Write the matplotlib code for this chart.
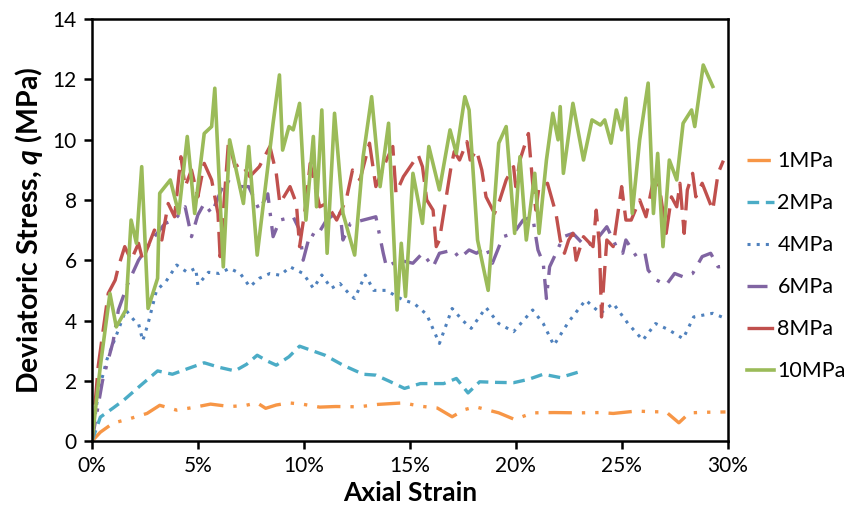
import matplotlib
matplotlib.use("Agg")
import matplotlib.pyplot as plt
from matplotlib.ticker import FuncFormatter

plt.rcParams['font.family'] = ['Lato', 'DejaVu Sans']
plt.rcParams['mathtext.fontset'] = 'custom'
plt.rcParams['mathtext.bfit'] = 'Lato:bold:italic'

# axial strain (%) and deviatoric stress (MPa) for each confining pressure
strain_1 = [0, 0.4, 1.0, 1.8, 2.6, 3.2, 4.0, 4.8, 5.6, 6.5, 7.2, 7.8, 8.2, 8.7, 9.3, 10.0,
            10.75, 11.5, 12.6, 13.5, 14.2, 14.7, 15.5, 16.3, 17.0, 17.6, 18.1, 18.6, 19.2,
            19.95, 20.8, 21.8, 23.0, 24.0, 24.6, 25.7, 26.3, 27.1, 27.7, 28.2, 29.0, 29.9]
stress_1 = [0, 0.3, 0.6, 0.75, 0.92, 1.19, 1.03, 1.12, 1.23, 1.15, 1.18, 1.27, 1.09, 1.2,
            1.27, 1.22, 1.13, 1.15, 1.14, 1.22, 1.25, 1.27, 1.16, 1.1, 0.81, 1.05, 1.14, 1.05,
            0.94, 0.72, 0.94, 0.95, 0.94, 0.95, 0.92, 1.0, 0.98, 0.97, 0.61, 0.94, 0.96, 0.97]

strain_2 = [0, 0.4, 1.0, 1.5, 2.3, 3.1, 3.8, 4.5, 5.3, 6.0, 6.75, 7.3, 7.8, 8.3, 8.7, 9.3,
            9.8, 10.4, 11.0, 11.85, 12.8, 13.4, 14.0, 14.75, 15.5, 16.6, 17.2, 17.75, 18.3,
            19.1, 19.9, 20.6, 21.3, 22.1, 23.0]
stress_2 = [0, 0.8, 1.1, 1.36, 1.85, 2.33, 2.22, 2.4, 2.6, 2.45, 2.33, 2.55, 2.85, 2.65,
            2.52, 2.8, 3.15, 3.0, 2.85, 2.52, 2.22, 2.19, 2.0, 1.75, 1.91, 1.91, 2.08, 1.6,
            1.97, 1.95, 1.94, 2.05, 2.22, 2.11, 2.3]

strain_4 = [0, 0.3, 0.7, 1.2, 1.6, 2.0, 2.2, 2.4, 2.65, 3.05, 3.5, 4.0, 4.5, 4.9, 5.0, 5.5,
            6.0, 6.5, 7.0, 7.45, 7.9, 8.4, 8.9, 9.35, 9.97, 10.45, 10.85, 11.3, 11.7, 12.2,
            12.4, 12.9, 13.3, 13.9, 14.4, 14.7, 15.2, 15.8, 16.4, 17.0, 17.5, 17.9, 18.6,
            19.2, 19.9, 20.8, 21.3, 21.8, 22.5, 23.3, 24.0, 24.6, 25.3, 26.0, 26.6, 27.2,
            27.9, 28.4, 29.3, 29.9]
stress_4 = [0, 1.6, 2.69, 3.6, 4.35, 4.0, 3.9, 3.33, 3.9, 5.0, 5.3, 5.84, 5.6, 5.73, 5.18,
            5.6, 5.56, 5.73, 5.56, 5.12, 5.4, 5.56, 5.5, 5.78, 5.56, 5.07, 5.51, 5.07, 5.23,
            4.84, 4.73, 5.51, 5.0, 5.0, 4.79, 4.68, 4.57, 4.2, 3.24, 4.4, 4.0, 3.74, 4.43,
            3.9, 3.63, 4.35, 3.9, 3.18, 3.96, 4.68, 4.24, 4.57, 3.9, 3.35, 3.9, 3.7, 3.4,
            4.12, 4.24, 4.07]

strain_6 = [0, 0.5, 1.0, 1.25, 1.7, 2.2, 2.95, 3.45, 3.9, 4.4, 4.7, 5.0, 5.3, 5.65, 6.3,
            6.9, 7.4, 7.9, 8.3, 8.55, 8.87, 9.5, 9.8, 9.97, 10.3, 10.6, 11.07, 11.7, 11.85,
            12.2, 12.8, 13.4, 13.75, 13.9, 14.5, 15.15, 15.6, 16.1, 16.4, 17.05, 17.35,
            17.8, 18.15, 18.6, 18.9, 19.4, 19.9, 20.35, 20.8, 21.05, 21.3, 21.45, 21.6,
            21.9, 22.25, 22.7, 23.3, 23.8, 24.3, 24.75, 25.05, 25.2, 25.7, 26.1, 26.25,
            26.65, 27.1, 27.5, 27.9, 28.35, 28.8, 29.2, 29.55, 29.8]
stress_6 = [0, 2.0, 3.3, 4.35, 5.23, 6.0, 6.78, 7.22, 7.33, 7.77, 6.78, 7.5, 7.88, 7.55,
            8.66, 8.44, 8.44, 7.66, 8.2, 6.78, 7.33, 7.44, 7.0, 6.0, 6.89, 6.78, 7.33, 7.66,
            6.67, 7.22, 7.33, 7.44, 6.23, 5.78, 6.0, 5.9, 6.23, 5.78, 6.23, 6.34, 6.06,
            6.34, 6.23, 6.45, 5.9, 6.78, 6.89, 7.33, 7.44, 6.34, 5.9, 4.73, 5.78, 6.23,
            6.78, 6.89, 6.45, 6.67, 7.11, 6.45, 6.23, 6.67, 6.12, 6.23, 5.67, 5.34, 5.18,
            5.56, 5.45, 5.56, 6.12, 6.23, 5.78, 5.8]

strain_8 = [0, 0.3, 0.77, 1.1, 1.25, 1.55, 1.85, 2.2, 2.4, 2.95, 3.3, 3.6, 3.9, 4.2, 4.4,
            4.7, 5.0, 5.3, 5.65, 5.95, 6.05, 6.45, 6.75, 7.05, 7.45, 7.9, 8.4, 8.7, 8.87,
            9.35, 9.65, 9.8, 10.1, 10.3, 10.75, 11.07, 11.55, 12.0, 12.3, 12.65, 13.1, 13.4,
            13.9, 14.2, 14.35, 14.7, 15.4, 15.6, 15.8, 16.1, 16.25, 16.4, 16.7, 16.95, 17.1,
            17.35, 17.7, 17.85, 18.15, 18.4, 18.6, 19.0, 19.25, 19.55, 19.9, 20.0, 20.2,
            20.6, 20.8, 20.95, 21.1, 21.5, 21.9, 22.1, 22.3, 22.5, 22.7, 22.85, 23.2, 23.65,
            23.8, 23.95, 24.05, 24.15, 24.3, 24.6, 25.0, 25.2, 25.45, 25.85, 26.15, 26.5,
            26.8, 27.1, 27.35, 27.6, 27.75, 27.95, 28.1, 28.35, 28.5, 28.8, 29.3, 29.55, 29.8]
stress_8 = [0, 2.5, 4.9, 5.34, 5.78, 6.45, 6.0, 6.56, 6.0, 7.0, 6.67, 7.88, 7.44, 9.43,
            8.44, 8.99, 8.1, 9.21, 8.66, 7.55, 6.12, 9.99, 9.1, 9.21, 8.77, 9.1, 9.77, 8.88,
            7.88, 8.44, 7.88, 6.45, 7.88, 9.21, 7.77, 7.88, 7.33, 8.0, 8.99, 8.66, 9.88,
            8.44, 9.32, 9.77, 8.22, 8.77, 9.49, 9.1, 8.0, 7.66, 6.45, 6.67, 8.0, 9.1, 9.6,
            9.32, 9.93, 9.32, 9.65, 8.99, 8.1, 7.55, 8.0, 8.66, 9.1, 8.44, 9.32, 10.2, 8.55,
            7.66, 8.44, 8.55, 7.55, 6.67, 6.23, 6.67, 6.89, 6.0, 6.78, 6.45, 7.66, 6.5,
            4.12, 5.2, 6.67, 6.45, 8.44, 7.33, 7.33, 8.0, 7.44, 8.66, 8.33, 6.89, 8.1, 7.77,
            8.55, 6.89, 8.33, 8.88, 8.1, 8.55, 7.66, 8.88, 9.3]

strain_10 = [0, 0.4, 0.85, 1.15, 1.6, 1.85, 2.1, 2.35, 2.65, 3.1, 3.2, 3.7, 4.1, 4.5, 4.85,
             5.3, 5.65, 5.8, 6.2, 6.5, 7.15, 7.4, 7.8, 8.55, 8.85, 9.0, 9.3, 9.5, 9.8, 10.1,
             10.45, 10.6, 10.85, 11.1, 11.45, 11.85, 12.4, 12.8, 13.2, 13.6, 14.0, 14.4,
             14.6, 14.8, 15.15, 15.6, 15.9, 16.4, 16.9, 17.2, 17.6, 17.8, 18.2, 18.7, 19.2,
             19.55, 19.95, 20.2, 20.5, 20.9, 21.1, 21.45, 21.75, 22.0, 22.1, 22.25, 22.7,
             23.2, 23.6, 24.0, 24.2, 24.5, 24.75, 25.0, 25.2, 25.5, 25.85, 26.25, 26.5,
             26.7, 26.95, 27.25, 27.6, 27.9, 28.3, 28.45, 28.85, 29.3]
stress_10 = [0, 2.5, 4.9, 3.79, 4.35, 7.33, 6.56, 9.1, 4.4, 5.4, 8.22, 8.66, 7.55, 10.1,
             7.55, 10.2, 10.43, 11.7, 5.78, 9.99, 7.88, 9.77, 6.17, 10.54, 12.14, 9.65,
             10.43, 10.32, 11.2, 7.33, 10.1, 7.77, 10.98, 6.23, 10.87, 7.55, 6.17, 9.43,
             11.42, 8.44, 10.54, 4.35, 6.56, 4.8, 8.88, 7.22, 9.77, 8.33, 10.32, 9.54,
             11.42, 10.98, 6.67, 5.0, 9.88, 10.43, 6.89, 9.43, 6.67, 8.88, 6.89, 9.32,
             10.87, 9.99, 11.09, 8.88, 11.2, 9.32, 10.65, 10.48, 10.65, 9.88, 10.98, 10.32,
             11.37, 7.55, 9.99, 11.87, 7.55, 9.54, 6.45, 9.32, 8.66, 10.54, 10.98, 10.43,
             12.47, 11.76]

labels = ['1MPa', '2MPa', '4MPa', '6MPa', '8MPa', '10MPa']

fig = plt.figure(figsize=(8.51, 5.24), dpi=100)
ax = fig.add_axes([0.108, 0.158, 0.747, 0.806])

kw = dict(solid_joinstyle='round', dash_joinstyle='round', dash_capstyle='butt')
ax.plot(strain_1, stress_1, color='#F79646', lw=2.4, ls=(0, (7, 3, 1, 3, 1, 3)), label=labels[0], **kw)
ax.plot(strain_2, stress_2, color='#4BACC6', lw=2.4, ls=(0, (3.5, 2)), label=labels[1], **kw)
ax.plot(strain_4, stress_4, color='#4F81BD', lw=2.2, ls=(0, (1, 2)), label=labels[2], **kw)
ax.plot(strain_6, stress_6, color='#8064A2', lw=2.4, ls=(0, (6, 3, 1, 3)), label=labels[3], **kw)
ax.plot(strain_8, stress_8, color='#C0504D', lw=2.4, ls=(0, (8, 3)), label=labels[4], **kw)
ax.plot(strain_10, stress_10, color='#9BBB59', lw=2.6, ls='-', label=labels[5], **kw)

ax.set_xlim(0, 30)
ax.set_ylim(0, 14)
ax.set_xticks(range(0, 31, 5))
ax.set_yticks(range(0, 15, 2))
ax.xaxis.set_major_formatter(FuncFormatter(lambda v, p: f'{int(v)}%'))

for s in ax.spines.values():
    s.set_linewidth(1.8)
    s.set_color('black')
ax.tick_params(direction='out', length=6, width=1.8, labelsize=15, pad=5)

ax.set_xlabel('Axial Strain', fontsize=19, fontweight='bold', labelpad=3)
ax.set_ylabel(r'Deviatoric Stress, $\mathbfit{q}$ (MPa)', fontsize=20.5,
              fontweight='bold', labelpad=5)

ax.legend(loc='center left', bbox_to_anchor=(0.868, 0.492), bbox_transform=fig.transFigure,
          frameon=False, fontsize=15.5, handlelength=1.25, handletextpad=0.15,
          labelspacing=1.02, borderaxespad=0)

fig.savefig('out.png', dpi=100)
